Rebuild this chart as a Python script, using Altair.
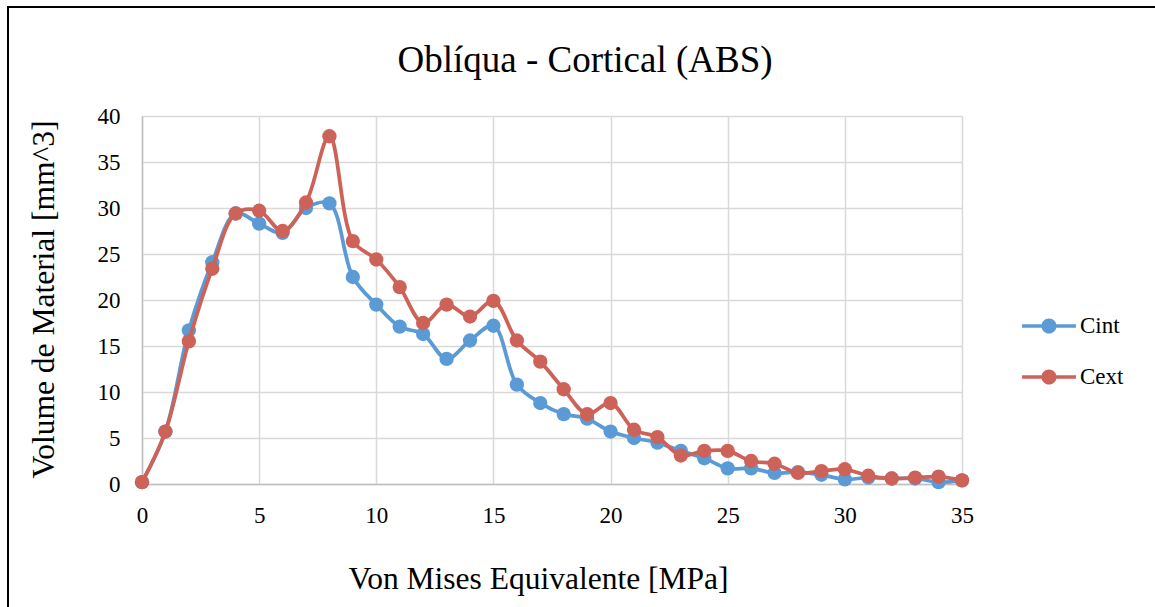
import altair as alt
import pandas as pd

x_vals = list(range(0, 36))
cint = [0.2, 5.7, 16.7, 24.1, 29.4, 28.3, 27.3, 30.0, 30.5, 22.5,
        19.5, 17.1, 16.3, 13.6, 15.6, 17.2, 10.8, 8.8, 7.6, 7.1,
        5.7, 5.0, 4.5, 3.6, 2.8, 1.7, 1.7, 1.2, 1.3, 1.0,
        0.5, 0.7, 0.6, 0.6, 0.2, 0.4]
cext = [0.2, 5.7, 15.5, 23.4, 29.4, 29.7, 27.5, 30.6, 37.8, 26.4,
        24.4, 21.4, 17.5, 19.5, 18.2, 19.9, 15.6, 13.3, 10.3, 7.6,
        8.8, 5.9, 5.1, 3.1, 3.6, 3.6, 2.5, 2.2, 1.2, 1.4,
        1.6, 0.9, 0.6, 0.7, 0.8, 0.4]
series_names = ["Cint", "Cext"]
colors = ["#5B9BD5", "#CD6259"]
chart_title = "Oblíqua - Cortical (ABS)"

df = pd.DataFrame({
    "x": x_vals * 2,
    "y": cint + cext,
    "s": [series_names[0]] * len(x_vals) + [series_names[1]] * len(x_vals),
})

W, H = 820, 368
SERIF = "Liberation Serif"

legend_path = ("M-1,-0.065 L1,-0.065 L1,0.065 L-1,0.065 Z "
               "M0.28,0 A0.28,0.28 0 1,1 -0.28,0 A0.28,0.28 0 1,1 0.28,0 Z")

color = alt.Color(
    "s:N",
    scale=alt.Scale(domain=series_names, range=colors),
    legend=alt.Legend(
        title=None, orient="none", legendX=880, legendY=183,
        symbolType=legend_path, symbolSize=2900, symbolStrokeWidth=0,
        labelFont=SERIF, labelFontSize=23, labelColor="black",
        rowPadding=12, labelOffset=4,
    ),
)

x_enc = alt.X(
    "x:Q", scale=alt.Scale(domain=[0, 35], nice=False),
    axis=alt.Axis(
        values=[0, 5, 10, 15, 20, 25, 30, 35], title="Von Mises Equivalente [MPa]",
        labelFont=SERIF, labelFontSize=23, labelColor="black", labelPadding=20,
        labelFlush=False, labelOverlap=False,
        ticks=False, domainColor="#bfbfbf", domainWidth=1.5,
        gridColor="#d9d9d9", gridWidth=1.5,
        titleFont=SERIF, titleFontSize=31.5, titleFontWeight="normal", titleColor="black",
        titleBaseline="alphabetic", titleY=104, titleX=396, titleAlign="center",
    ),
)
y_enc = alt.Y(
    "y:Q", scale=alt.Scale(domain=[0, 40], nice=False),
    axis=alt.Axis(
        values=[0, 5, 10, 15, 20, 25, 30, 35, 40], title="Volume de Material [mm^3]",
        labelFont=SERIF, labelFontSize=23, labelColor="black", labelPadding=22,
        labelFlush=False, labelOverlap=False,
        ticks=False, domainColor="#bfbfbf", domainWidth=1.5,
        gridColor="#d9d9d9", gridWidth=1.5,
        titleFont=SERIF, titleFontSize=31.5, titleFontWeight="normal", titleColor="black",
        titleBaseline="alphabetic", titleX=-89, titleY=183, titleAngle=-90,
        titleAlign="center",
    ),
)

layers = []
for name in series_names:
    base = alt.Chart(df).transform_filter(alt.datum.s == name)
    layers.append(base.mark_line(strokeWidth=3.75, interpolate="catmull-rom").encode(
        x=x_enc, y=y_enc, color=color))
    layers.append(base.mark_point(filled=True, size=205, opacity=1, shape="circle").encode(
        x=x_enc, y=y_enc, color=color))

one = pd.DataFrame({"k": [0]})
top_rule = alt.Chart(one).mark_rule(color="black", strokeWidth=2).encode(
    x=alt.value(-134), x2=alt.value(1013), y=alt.value(-109))
left_rule = alt.Chart(one).mark_rule(color="black", strokeWidth=2).encode(
    x=alt.value(-134), y=alt.value(-110), y2=alt.value(491))
title_text = alt.Chart(one).mark_text(
    text=chart_title, font=SERIF, fontSize=37, color="black",
    align="center", baseline="alphabetic",
).encode(x=alt.value(443), y=alt.value(-44))

chart = alt.layer(*layers, top_rule, left_rule, title_text).properties(
    width=W, height=H,
    autosize=alt.AutoSizeParams(type="none"),
    padding={"left": 142, "top": 116, "right": 193, "bottom": 123},
).configure_view(stroke=None).configure(background="white")

chart.save("out.html", embed_options={"renderer": "svg", "actions": False})
